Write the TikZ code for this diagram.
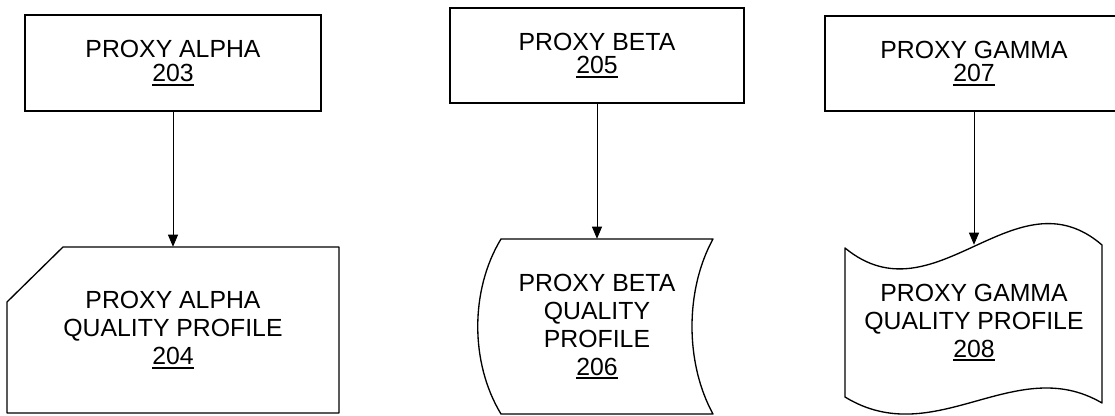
\documentclass[tikz,border=0pt]{standalone}
\usepackage{fontspec}
\setmainfont{Liberation Sans}
\usetikzlibrary{arrows.meta, positioning}

\newcommand{\refnum}[1]{\leavevmode\vtop{\hbox{#1}\kern1.6pt\hrule height 1.4pt}}

\begin{document}
\begin{tikzpicture}[x=0.75pt, y=-0.75pt]

\useasboundingbox (0,0) rectangle (1115,416);

% Define block styles
\tikzstyle{proxy} = [rectangle, minimum width=222pt, minimum height=71.5pt, text centered, align=center, draw=black, line width=1.5pt, font=\fontsize{18.6}{17.6}\selectfont]
\tikzstyle{profile} = [rectangle, inner sep=0pt, text centered, align=center, font=\fontsize{18.6}{21}\selectfont]
\tikzstyle{outline} = [draw=black, line width=1pt, line join=round]
\tikzstyle{arrow} = [line width=0.6pt, -{Triangle[length=9pt, width=7.5pt]}]

% Nodes
\node (proxy1) [proxy] at (173,63) {PROXY ALPHA\\\refnum{203}};
\node (proxy2) [proxy, minimum width=220.5pt, minimum height=71.25pt] at (597,55.5) {PROXY BETA\\\refnum{205}};
\node (proxy3) [proxy, minimum width=223.5pt, minimum height=71.25pt] at (974,63.5) {PROXY GAMMA\\\refnum{207}};

% Quality profiles
\node (profile1) [profile, minimum width=249pt, minimum height=124.5pt] at (173,330) {PROXY ALPHA\\QUALITY PROFILE\\\refnum{204}};
\node (profile2) [profile, minimum width=159pt, minimum height=131.25pt] at (597,326.5) {PROXY BETA\\QUALITY\\PROFILE\\\refnum{206}};
\node (profile3) [profile, minimum width=192.75pt, minimum height=116.25pt] at (974,322.5) {PROXY GAMMA\\QUALITY PROFILE\\\refnum{208}};

% Outlines of the profiles
\draw [outline] (63,247) -- (339,247) -- (339,413) -- (7,413) -- (7,302) -- cycle;
\draw [outline] (501,239) -- (713,239) .. controls (685,290) and (685,363) .. (713,414) -- (501,414) .. controls (470,363) and (470,290) .. (501,239) -- cycle;
\draw [outline] (845,248) .. controls (935,322) and (1015,170) .. (1102,245) -- (1102,403) .. controls (1015,352) and (935,452) .. (845,397) -- cycle;

% Arrows
\draw [arrow] (proxy1) -- (profile1);
\draw [arrow] (proxy2) -- (profile2);
\draw [arrow] (proxy3) -- (profile3);

\end{tikzpicture}
\end{document}
